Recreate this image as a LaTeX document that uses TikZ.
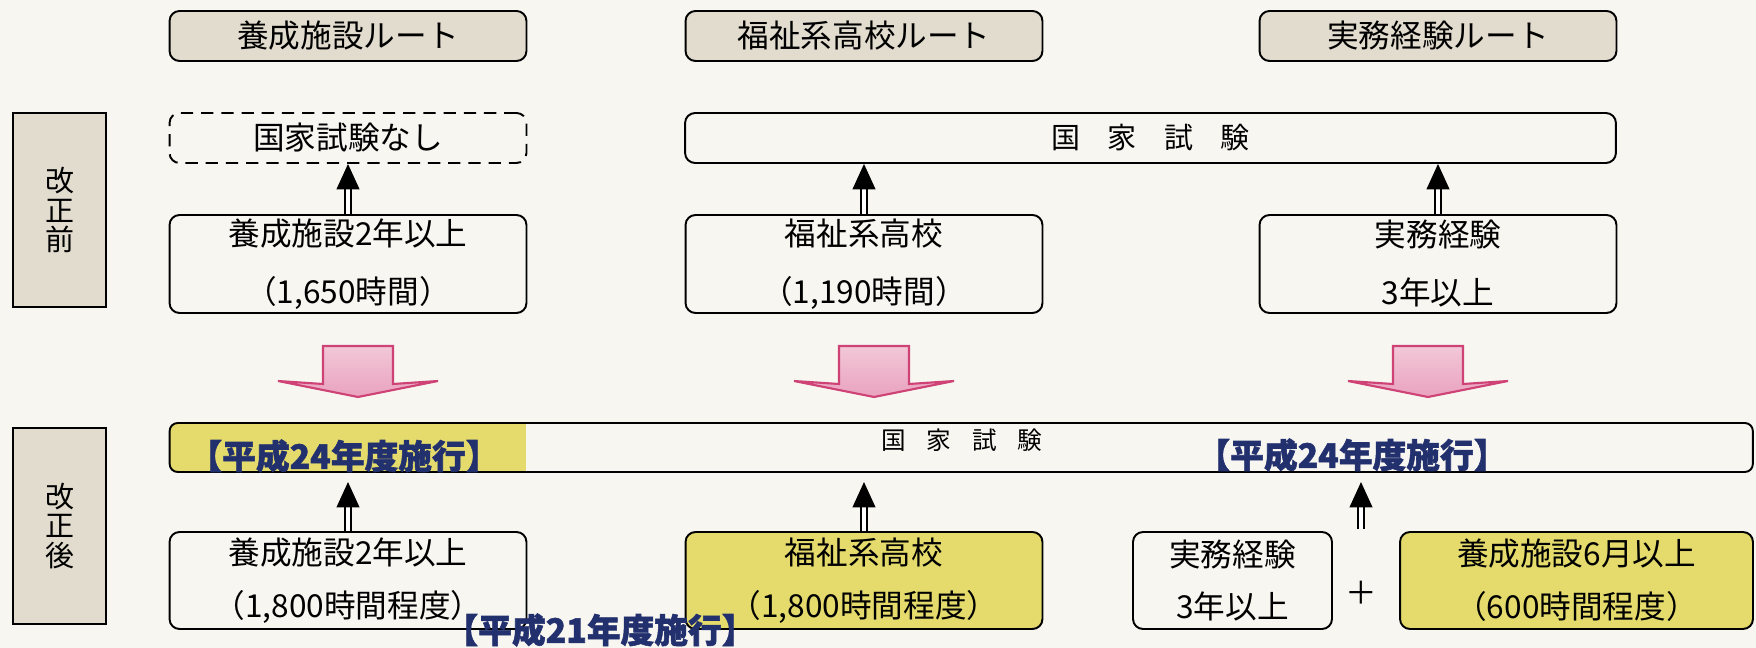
\documentclass[tikz,border=0pt]{standalone}
\usepackage{fontspec}
\setmainfont{Noto Sans CJK JP}
\newfontfamily\datefont{Noto Sans CJK JP}[BoldFeatures={FakeBold=1.6}]
\usetikzlibrary{arrows.meta,positioning,calc}

\definecolor{paper}{HTML}{F7F6F1}
\definecolor{routebeige}{HTML}{E2DCCF}
\definecolor{markyellow}{HTML}{E4DB6C}
\definecolor{dateblue}{HTML}{22306E}
\definecolor{shiftpink}{HTML}{E9A2BE}
\definecolor{shiftline}{HTML}{CF4275}

\begin{document}
\begin{tikzpicture}[
    x=0.02cm, y=-0.02cm,
    box/.style={rectangle, draw, line width=1.1pt, rounded corners=0.2cm, minimum width=7.14cm, minimum height=1.96cm, align=center, inner sep=0pt, font=\fontsize{18}{21}\selectfont},
    route/.style={box, fill=routebeige, minimum height=1.0cm},
    stage/.style={rectangle, draw, line width=1.3pt, fill=routebeige, minimum width=1.86cm, align=center, inner sep=0pt, font=\fontsize{16.5}{17}\selectfont},
    datemark/.style={text=dateblue, inner sep=0pt, font=\fontsize{19.2}{22}\datefont\bfseries},
    upward/.style={double, double distance=2.4pt, line width=1pt, -{Triangle[width=13pt,length=14.5pt]}},
    shiftarrow/.style={draw=shiftline, line width=1.2pt, top color=shiftpink!60!white, bottom color=shiftpink}
]
\useasboundingbox[fill=paper] (0,0) rectangle (1756,648);

% route headings
\node[route] (hdA) at (348,36) {養成施設ルート};
\node[route] (hdB) at (864,36) {福祉系高校ルート};
\node[route] (hdC) at (1438,36) {実務経験ルート};

% before / after labels
\node[stage, minimum height=3.88cm] (before) at (59.5,210) {改\\正\\前};
\node[stage, minimum height=3.92cm] (after) at (59.5,526) {改\\正\\後};

% before the revision
\node[box, dashed, dash pattern=on 7pt off 4.5pt, minimum height=1.0cm] (noexam) at (348,138) {国家試験なし};
\node[box, minimum width=18.62cm, minimum height=1.0cm, font=\fontsize{16.5}{18}\selectfont] (examold) at (1150.5,138) {国\hspace{0.95em}家\hspace{0.95em}試\hspace{0.95em}験};

\node[box] (oldA) at (348,264) {養成施設2年以上\\[12pt]（1,650時間）};
\node[box] (oldB) at (864,264) {福祉系高校\\[12pt]（1,190時間）};
\node[box] (oldC) at (1438,264) {実務経験\\[12pt]3年以上};

\draw[upward] (oldA.north) -- (noexam.south);
\draw[upward] (oldB.north) -- (oldB.north |- examold.south);
\draw[upward] (oldC.north) -- (oldC.north |- examold.south);

% change arrows
\foreach \cx in {358,874,1428}
  \filldraw[shiftarrow] (\cx-35,346) -- (\cx+35,346) -- (\cx+35,384) -- (\cx+80,381)
    -- (\cx,397) -- (\cx-80,381) -- (\cx-35,384) -- cycle;

% after the revision
\begin{scope}
  \clip[rounded corners=0.16cm] (169.5,423) rectangle (1753,472);
  \fill[markyellow] (169.5,423) rectangle (526,472);
\end{scope}
\node[box, minimum width=31.67cm, minimum height=0.98cm, rounded corners=0.16cm] (examnew) at (961.25,447.5) {};
\node[font=\fontsize{14}{16}\selectfont, inner sep=0pt] (examtext) at (962,440) {国\hspace{0.85em}家\hspace{0.85em}試\hspace{0.85em}験};
\node[datemark] (dateA) at (344,456) {【平成24年度施行】};
\node[datemark] (dateC) at (1352,455) {【平成24年度施行】};

\node[box, minimum height=1.94cm] (newA) at (348,580.5) {養成施設2年以上\\[9pt]（1,800時間程度）};
\node[box, fill=markyellow, minimum height=1.94cm] (newB) at (864,580.5) {福祉系高校\\[9pt]（1,800時間程度）};
\node[box, minimum width=3.98cm, minimum height=1.94cm] (newC) at (1232.5,580.5) {実務経験\\[9pt]3年以上};
\node[box, fill=markyellow, minimum width=7.06cm, minimum height=1.94cm] (newD) at (1576.5,580.5) {養成施設6月以上\\[9pt]（600時間程度）};
\node[font=\fontsize{18}{21}\selectfont, inner sep=0pt] (plus) at (1361,593) {＋};

\coordinate (tipline) at (0,482);
\coordinate (joinC) at (1361,529);
\draw[upward] (newA.north) -- (newA.north |- tipline);
\draw[upward] (newB.north) -- (newB.north |- tipline);
\draw[upward] (joinC) -- (joinC |- tipline);

\node[datemark] (dateB) at (600,630) {【平成21年度施行】};
\end{tikzpicture}
\end{document}
